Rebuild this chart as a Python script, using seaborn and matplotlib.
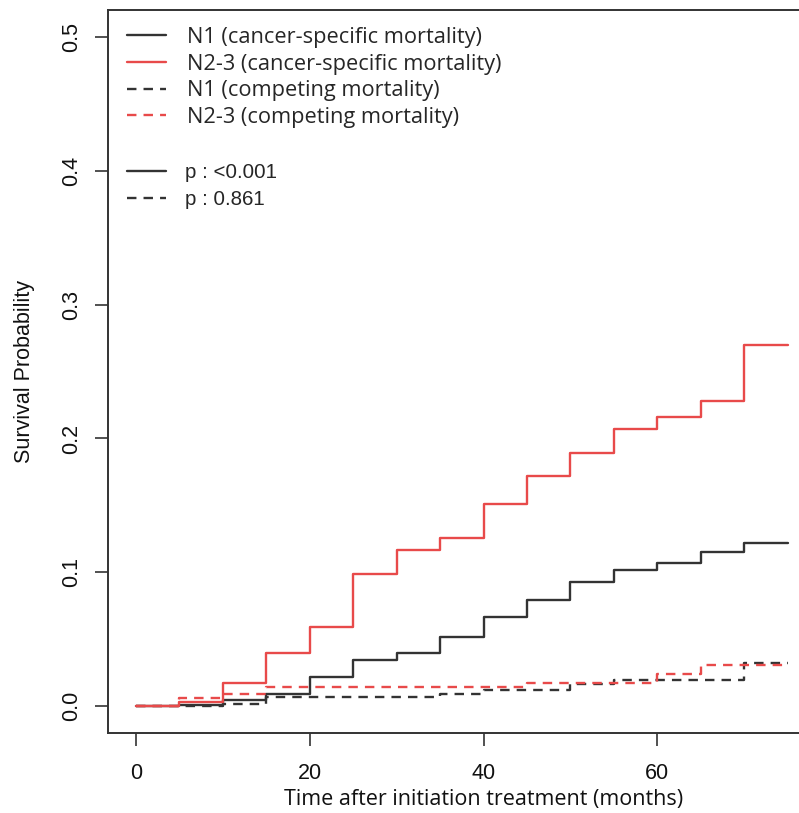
import numpy as np
import pandas as pd
import matplotlib
matplotlib.use("Agg")
import matplotlib.pyplot as plt
from matplotlib.lines import Line2D
import seaborn as sns

# ---- data ----
months = [0, 5, 10, 15, 20, 25, 30, 35, 40, 45, 50, 55, 60, 65, 70, 75]
n1_cancer = [0.000, 0.001, 0.005, 0.009, 0.022, 0.0345, 0.040, 0.052, 0.067, 0.079,
             0.093, 0.102, 0.107, 0.1155, 0.122, 0.122]
n23_cancer = [0.000, 0.003, 0.017, 0.040, 0.059, 0.0985, 0.117, 0.126, 0.151, 0.172,
              0.189, 0.207, 0.216, 0.228, 0.270, 0.270]
n1_competing = [0.000, 0.000, 0.002, 0.0072, 0.0072, 0.0072, 0.0072, 0.009, 0.012, 0.012,
                0.0164, 0.0196, 0.0196, 0.0196, 0.0326, 0.0326]
n23_competing = [0.000, 0.006, 0.009, 0.0145, 0.0145, 0.0145, 0.0145, 0.0145, 0.0145, 0.0177,
                 0.0177, 0.0177, 0.024, 0.031, 0.031, 0.031]

series_names = ["N1 (cancer-specific mortality)", "N2-3 (cancer-specific mortality)",
                "N1 (competing mortality)", "N2-3 (competing mortality)"]
series_group = ["N1", "N2-3", "N1", "N2-3"]
series_kind = ["cancer", "cancer", "competing", "competing"]
p_labels = ["p : <0.001", "p : 0.861"]
x_ticks = [0, 20, 40, 60]
y_ticks = [0.0, 0.1, 0.2, 0.3, 0.4, 0.5]
x_label = "Time after initiation treatment (months)"
y_label = "Survival Probability"

BLACK = "#333333"
RED = "#e84a4a"
palette = {"N1": BLACK, "N2-3": RED}
dash_map = {"cancer": "", "competing": (4, 3)}

rows = []
for name, grp, kind, vals in zip(series_names, series_group, series_kind,
                                 [n1_cancer, n23_cancer, n1_competing, n23_competing]):
    for t, v in zip(months, vals):
        rows.append({"month": t, "value": v, "series": name, "group": grp, "kind": kind})
df = pd.DataFrame(rows)

sns.set_style("white")
plt.rcParams["font.family"] = ["Liberation Sans", "DejaVu Sans"]

fig = plt.figure(figsize=(7.99, 8.13), dpi=100)
L, R, T, B = 108, 859, 10, 733
ax = fig.add_axes([L / 799, 1 - B / 813, (R - L) / 799, (B - T) / 813])

sns.lineplot(data=df, x="month", y="value", hue="group", style="kind",
             units="series", estimator=None, palette=palette, dashes=dash_map,
             drawstyle="steps-post", linewidth=1.7, legend=False, ax=ax)

ax.set_xlim(-3.2, 83.2)
ax.set_ylim(-0.02, 0.52)
ax.set_xticks(x_ticks)
ax.set_yticks(y_ticks)
ax.set_yticklabels([f"{v:.1f}" for v in y_ticks], rotation=90, va="center")
ax.tick_params(axis="both", direction="out", length=9.5, width=1.2, color=BLACK,
               labelsize=15.5, labelcolor="#111111", left=True, bottom=True)
ax.tick_params(axis="y", pad=9)
ax.tick_params(axis="x", pad=12)
for s in ax.spines.values():
    s.set_visible(True)
    s.set_color(BLACK)
    s.set_linewidth(1.4)

ax.set_xlabel(x_label, fontsize=15.5, family=["Open Sans", "DejaVu Sans"], labelpad=4, color="#111111")
ax.set_ylabel(y_label, fontsize=15.5, labelpad=19, color="#111111")

handles1 = [Line2D([], [], color=palette[g], lw=1.7, linestyle="-" if k == "cancer" else (0, (4, 3)))
            for g, k in zip(series_group, series_kind)]
leg1 = ax.legend(handles1, series_names, loc="upper left",
                 bbox_to_anchor=(127 / 799, 1 - 27 / 813), bbox_transform=fig.transFigure,
                 frameon=False, borderpad=0, borderaxespad=0, handlelength=1.8,
                 handletextpad=0.95, labelspacing=0.26,
                 prop={"family": ["Open Sans", "DejaVu Sans"], "size": 15.7})
ax.add_artist(leg1)
handles2 = [Line2D([], [], color=BLACK, lw=1.7, linestyle="-"),
            Line2D([], [], color=BLACK, lw=1.7, linestyle=(0, (4, 3)))]
leg2 = ax.legend(handles2, p_labels, loc="upper left",
                 bbox_to_anchor=(127 / 799, 1 - 163 / 813), bbox_transform=fig.transFigure,
                 frameon=False, borderpad=0, borderaxespad=0, handlelength=1.9,
                 handletextpad=0.92, labelspacing=0.38,
                 prop={"family": ["Liberation Sans", "DejaVu Sans"], "size": 14.8})

fig.savefig("out.png", dpi=100)
